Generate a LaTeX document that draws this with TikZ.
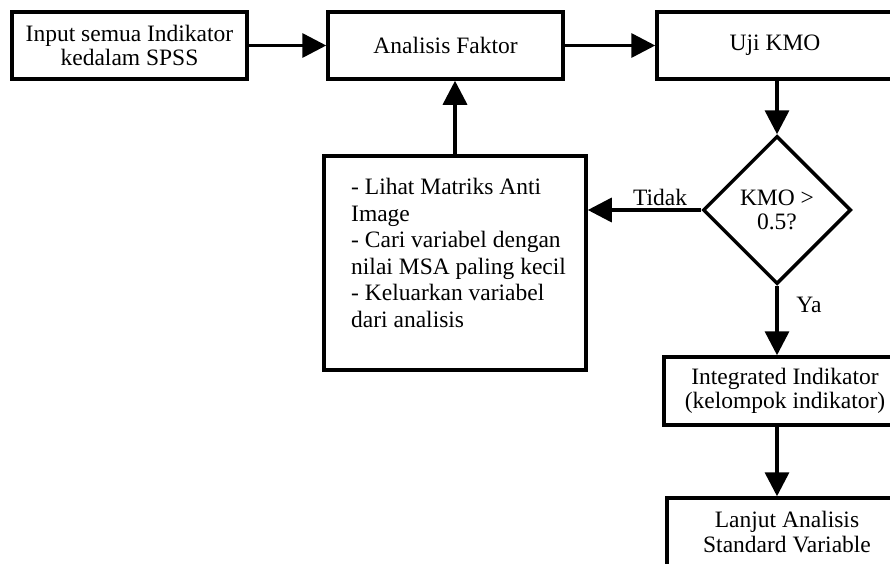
\documentclass[tikz,border=0pt]{standalone}
\usepackage{fontspec}
\setmainfont{Liberation Serif}
\usetikzlibrary{arrows.meta,shapes.geometric}
\begin{document}
\begin{tikzpicture}[x=1pt,y=-1pt,
  txt/.style={font=\fontsize{23.5}{24.5}\selectfont},
  box/.style={draw, line width=3.5pt, rectangle, inner sep=0pt, align=center, txt},
  arr/.style={line width=3.5pt, -{Triangle[length=24pt,width=24pt]}}]
\useasboundingbox (0,0) rectangle (890,563);
\begin{scope}
\clip (0,0) rectangle (890,563);
\node[box, minimum width=235pt, minimum height=67pt] (b1) at (129.5,45.5) {Input semua Indikator\\kedalam SPSS};
\node[box, minimum width=235pt, minimum height=67pt] (b2) at (445.5,45.5) {Analisis Faktor};
\node[box, minimum width=236pt, minimum height=67pt] (b3) at (775,45.5) {Uji KMO};
\node[draw, line width=3.5pt, diamond, inner sep=0pt, minimum width=148pt, minimum height=148pt, align=center, txt] (dia) at (777,210) {KMO >\\0.5?};
\node[box, minimum width=262pt, minimum height=214pt] (b4) at (455,263) {};
\node[font=\fontsize{23.5}{26.5}\selectfont, anchor=north west, align=left, inner sep=0pt] (b4t) at (351,178) {- Lihat Matriks Anti\\Image\\- Cari variabel dengan\\nilai MSA paling kecil\\- Keluarkan variabel\\dari analisis};
\node[box, minimum width=242pt, minimum height=68pt] (b5) at (785,391) {Integrated Indikator\\(kelompok indikator)};
\node[box, minimum width=240pt, minimum height=68pt] (b6) at (787,532) {Lanjut Analisis\\Standard Variable};
\node[txt] (tidak) at (660,197) {Tidak};
\node[txt] (ya) at (809,305) {Ya};
\draw[arr] (b1.east) -- (b2.west);
\draw[arr] (b2.east) -- (b3.west);
\draw[arr] (b3.south -| dia.north) -- (dia.north);
\draw[arr] (dia.west) -- (dia.west -| b4.east);
\draw[arr] (b4.north) -- (b4.north |- b2.south);
\draw[arr] (dia.south) -- (dia.south |- b5.north);
\draw[arr] (b5.south -| dia.south) -- (dia.south |- b6.north);
\end{scope}
\end{tikzpicture}
\end{document}
